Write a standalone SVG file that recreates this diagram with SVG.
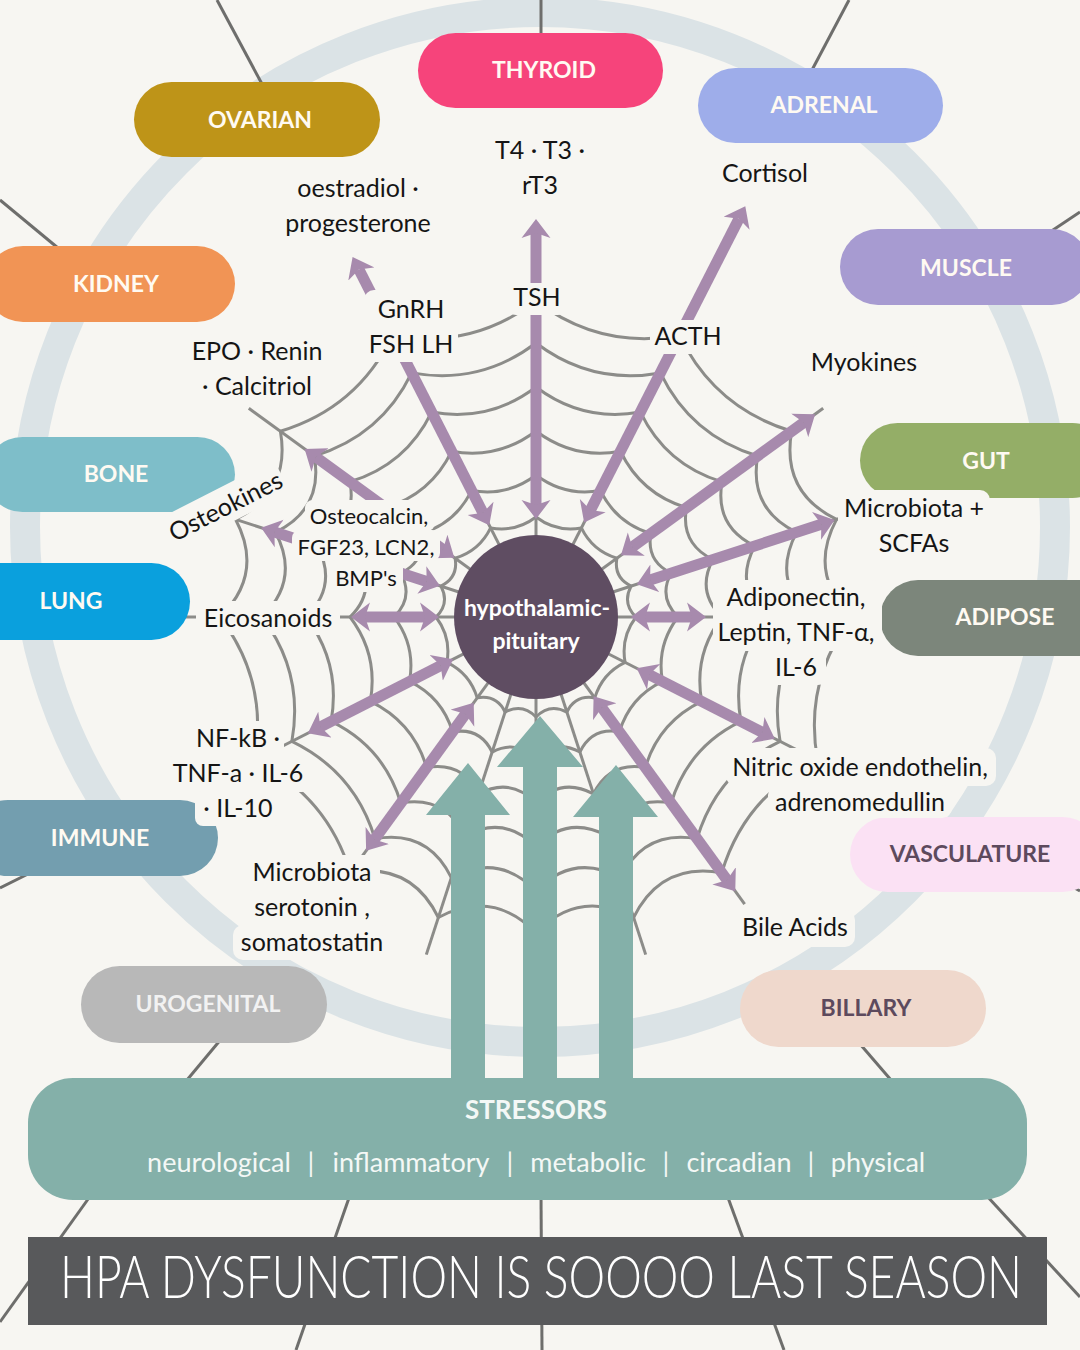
<svg xmlns="http://www.w3.org/2000/svg" width="1080" height="1350" viewBox="0 0 1080 1350">
<defs>
<style>
.t{font-family:Lato,'Liberation Sans','DejaVu Sans',sans-serif}
.lbl{font-family:Lato,'Liberation Sans','DejaVu Sans',sans-serif;font-size:25px;fill:#151515;text-anchor:middle}
.sm{font-size:22px}
.lb{fill:#f7f6f2}
.nd text{font-family:Lato,'Liberation Sans','DejaVu Sans',sans-serif;font-size:23px;font-weight:700;fill:#fffaf2;text-anchor:middle}
.web{fill:none;stroke:#8c8c89;stroke-width:3}
.osp{stroke:#6e6e6c;stroke-width:3}
.arr{stroke:#a78aad;stroke-width:11}
.st{font-family:Lato,'Liberation Sans','DejaVu Sans',sans-serif;font-size:27px;fill:#f4f8f6;text-anchor:middle}
</style>
<marker id="ah" viewBox="0 -15 20 30" refX="5" refY="0" markerWidth="20" markerHeight="30" markerUnits="userSpaceOnUse" orient="auto-start-reverse"><path d="M0,-14.5 L19,0 L0,14.5 L5,0 Z" fill="#a78aad"/></marker>
<g id="s18"><line x1="0" y1="0" x2="0" y2="-355"/><path d="M0,-100 Q13.6,-85.9 30.9,-95.1 M0,-142 Q19.3,-122 43.9,-135.1 M0,-186 Q25.3,-159.8 57.5,-176.9 M0,-230 Q31.3,-197.6 71.1,-218.7 M0,-274 Q37.3,-235.4 84.7,-260.6 M0,-316 Q43,-271.5 97.7,-300.5"/></g>
<g id="s27"><line x1="0" y1="0" x2="0" y2="-355"/><path d="M0,-100 Q20.3,-84.6 45.4,-89.1 M0,-142 Q28.8,-120.1 64.5,-126.5 M0,-186 Q37.8,-157.3 84.4,-165.7 M0,-230 Q46.7,-194.6 104.4,-204.9 M0,-274 Q55.6,-231.8 124.4,-244.1 M0,-316 Q64.2,-267.3 143.5,-281.6"/></g>
</defs>
<rect width="1080" height="1350" fill="#f7f6f2"/>
<circle cx="540" cy="527" r="515" fill="none" stroke="#dbe3e6" stroke-width="30"/>
<g id="outer-spokes" class="osp">
<line x1="217" y1="0" x2="262" y2="84"/>
<line x1="541" y1="0" x2="541" y2="36"/>
<line x1="849" y1="0" x2="812" y2="70"/>
<line x1="0" y1="200" x2="58" y2="248"/>
<line x1="1080" y1="212" x2="1050" y2="232"/>
<line x1="0" y1="888" x2="30" y2="873"/>
<line x1="1060" y1="880" x2="1080" y2="891"/>
<line x1="222" y1="1038" x2="187" y2="1080"/>
<line x1="860" y1="1044" x2="891" y2="1080"/>
<line x1="91" y1="1195" x2="0" y2="1322"/>
<line x1="350" y1="1195" x2="296" y2="1350"/>
<line x1="541" y1="1195" x2="542" y2="1350"/>
<line x1="727" y1="1195" x2="784" y2="1350"/>
<line x1="986" y1="1195" x2="1080" y2="1297"/>
</g>
<g id="web" class="web">
<use href="#s27" transform="translate(536 617) rotate(90)"/>
<use href="#s27" transform="translate(536 617) rotate(117)"/>
<use href="#s18" transform="translate(536 617) rotate(144)"/>
<use href="#s18" transform="translate(536 617) rotate(162)"/>
<use href="#s18" transform="translate(536 617) rotate(180)"/>
<use href="#s18" transform="translate(536 617) rotate(198)"/>
<use href="#s27" transform="translate(536 617) rotate(216)"/>
<use href="#s27" transform="translate(536 617) rotate(243)"/>
<use href="#s18" transform="translate(536 617) rotate(270)"/>
<use href="#s18" transform="translate(536 617) rotate(288)"/>
<use href="#s27" transform="translate(536 617) rotate(306)"/>
<use href="#s27" transform="translate(536 617) rotate(333)"/>
<use href="#s27" transform="translate(536 617) rotate(0)"/>
<use href="#s27" transform="translate(536 617) rotate(27)"/>
<use href="#s18" transform="translate(536 617) rotate(54)"/>
<use href="#s18" transform="translate(536 617) rotate(72)"/>
</g>
<g id="connectors" class="arr" marker-start="url(#ah)" marker-end="url(#ah)">
<line x1="117" y1="0" x2="390" y2="0" transform="translate(536 617) rotate(243)"/>
<line x1="112" y1="0" x2="384" y2="0" transform="translate(536 617) rotate(270)"/>
<line x1="120" y1="0" x2="447" y2="0" transform="translate(536 617) rotate(297)"/>
<line x1="119" y1="0" x2="331" y2="0" transform="translate(536 617) rotate(324)"/>
<line x1="120" y1="0" x2="300" y2="0" transform="translate(536 617) rotate(342)"/>
<line x1="109" y1="0" x2="156" y2="0" transform="translate(536 617) rotate(0)"/>
<line x1="127" y1="0" x2="254" y2="0" transform="translate(536 617) rotate(27)"/>
<line x1="112" y1="0" x2="325" y2="0" transform="translate(536 617) rotate(54)"/>
<line x1="120" y1="0" x2="275" y2="0" transform="translate(536 617) rotate(126)"/>
<line x1="107" y1="0" x2="242" y2="0" transform="translate(536 617) rotate(153)"/>
<line x1="111" y1="0" x2="171" y2="0" transform="translate(536 617) rotate(180)"/>
<line x1="115" y1="0" x2="275" y2="0" transform="translate(536 617) rotate(198)"/>
<line x1="115" y1="0" x2="272" y2="0" transform="translate(536 617) rotate(216)"/>
</g>
<g id="stress-arrows" fill="#84b0a9">
<path d="M451,1082 L451,815 L426,815 L468,763 L510,815 L485,815 L485,1082 Z"/>
<path d="M523,1082 L523,767 L497,767 L540,716 L583,767 L557,767 L557,1082 Z"/>
<path d="M599,1082 L599,817 L573,817 L616,765 L658,817 L633,817 L633,1082 Z"/>
</g>
<g id="thyroid" class="nd"><rect x="418" y="33" width="245" height="75" rx="37.5" fill="#f6447b"/><text x="544" y="78">THYROID</text></g>
<g id="ovarian" class="nd"><rect x="134" y="82" width="246" height="75" rx="37.5" fill="#be9418"/><text x="260" y="128">OVARIAN</text></g>
<g id="adrenal" class="nd"><rect x="698" y="68" width="245" height="75" rx="37.5" fill="#9eadea"/><text x="824" y="113">ADRENAL</text></g>
<g id="muscle" class="nd"><rect x="840" y="229" width="250" height="76" rx="38" fill="#a79bd1"/><text x="966" y="276">MUSCLE</text></g>
<g id="kidney" class="nd"><rect x="-15" y="246" width="250" height="76" rx="38" fill="#f19455"/><text x="116" y="292">KIDNEY</text></g>
<g id="bone" class="nd"><rect x="-15" y="437" width="250" height="75" rx="37.5" fill="#7ebec9"/><text x="116" y="482">BONE</text></g>
<g id="lung" class="nd"><rect x="-60" y="563" width="250" height="77" rx="38.5" fill="#0aa0dd"/><text x="71" y="609">LUNG</text></g>
<g id="gut" class="nd"><rect x="860" y="423" width="250" height="75" rx="37.5" fill="#94ae67"/><text x="986" y="469">GUT</text></g>
<g id="adipose" class="nd"><rect x="880" y="580" width="250" height="76" rx="38" fill="#7c867b"/><text x="1005" y="625">ADIPOSE</text></g>
<g id="immune" class="nd"><rect x="-30" y="800" width="248" height="76" rx="38" fill="#739eaf"/><text x="100" y="846">IMMUNE</text></g>
<g id="vasculature" class="nd"><rect x="850" y="817" width="250" height="75" rx="37.5" fill="#fbe1f4"/><text x="970" y="862" style="fill:#5d4a5d">VASCULATURE</text></g>
<g id="urogenital" class="nd"><rect x="81" y="966" width="246" height="77" rx="38.5" fill="#b8b8b8"/><text x="208" y="1012" style="fill:#f2f2f2">UROGENITAL</text></g>
<g id="billary" class="nd"><rect x="740" y="970" width="246" height="77" rx="38.5" fill="#efd8cc"/><text x="866" y="1016" style="fill:#5d4a5d">BILLARY</text></g>
<g id="labels">
<g id="lbl-thyroid"><rect class="lb" x="488" y="133" width="104" height="70" rx="10"/><text class="lbl" x="540" y="159">T4 · T3 ·</text><text class="lbl" x="540" y="194">rT3</text></g>
<g id="lbl-ovarian"><rect class="lb" x="280" y="170" width="158" height="70" rx="10"/><text class="lbl" x="358" y="197">oestradiol ·</text><text class="lbl" x="358" y="232">progesterone</text></g>
<g id="lbl-adrenal"><rect class="lb" x="715" y="158" width="100" height="34" rx="10"/><text class="lbl" x="765" y="182">Cortisol</text></g>
<g id="lbl-kidney"><rect class="lb" x="185" y="334" width="145" height="70" rx="10"/><text class="lbl" x="257" y="360">EPO · Renin</text><text class="lbl" x="257" y="395">· Calcitriol</text></g>
<g id="lbl-gnrh"><rect class="lb" x="364" y="290" width="94" height="72" rx="10"/><text class="lbl" x="411" y="318">GnRH</text><text class="lbl" x="411" y="353">FSH LH</text></g>
<g id="lbl-tsh"><rect class="lb" x="508" y="283" width="58" height="32" rx="8"/><text class="lbl" x="537" y="306">TSH</text></g>
<g id="lbl-acth"><rect class="lb" x="650" y="320" width="77" height="34" rx="8"/><text class="lbl" x="688" y="345">ACTH</text></g>
<g id="lbl-myokines"><rect class="lb" x="805" y="346" width="118" height="34" rx="10"/><text class="lbl" x="864" y="371">Myokines</text></g>
<g id="lbl-osteokines" transform="translate(226 507) rotate(-27)"><rect class="lb" x="-64" y="-20" width="128" height="36" rx="10"/><text class="lbl" x="0" y="8">Osteokines</text></g>
<g id="lbl-bone"><rect class="lb" x="305" y="500" width="130" height="31" rx="8"/><rect class="lb" x="292" y="530" width="148" height="31" rx="8"/><rect class="lb" x="329" y="560" width="74" height="32" rx="8"/><text class="lbl sm" x="369" y="524">Osteocalcin,</text><text class="lbl sm" x="366" y="555">FGF23, LCN2,</text><text class="lbl sm" x="366" y="586">BMP's</text></g>
<g id="lbl-lung"><rect class="lb" x="196" y="601" width="144" height="34" rx="10"/><text class="lbl" x="268" y="627">Eicosanoids</text></g>
<g id="lbl-gut"><rect class="lb" x="838" y="490" width="152" height="71" rx="10"/><text class="lbl" x="914" y="517">Microbiota +</text><text class="lbl" x="914" y="552">SCFAs</text></g>
<g id="lbl-adipose"><rect class="lb" x="713" y="580" width="169" height="71" rx="10"/><rect class="lb" x="766" y="650" width="60" height="35" rx="8"/><text class="lbl" x="796" y="606">Adiponectin,</text><text class="lbl" x="796" y="641">Leptin, TNF-α,</text><text class="lbl" x="796" y="676">IL-6</text></g>
<g id="lbl-immune"><rect class="lb" x="190" y="721" width="94" height="36" rx="8"/><rect class="lb" x="166" y="756" width="144" height="36" rx="8"/><rect class="lb" x="195" y="791" width="86" height="35" rx="8"/><text class="lbl" x="238" y="747">NF-kB ·</text><text class="lbl" x="238" y="782">TNF-a · IL-6</text><text class="lbl" x="238" y="817">· IL-10</text></g>
<g id="lbl-vasc"><rect class="lb" x="726" y="748" width="270" height="38" rx="10"/><rect class="lb" x="768" y="785" width="184" height="33" rx="10"/><text class="lbl" x="860" y="776">Nitric oxide endothelin,</text><text class="lbl" x="860" y="811">adrenomedullin</text></g>
<g id="lbl-micro"><rect class="lb" x="246" y="855" width="134" height="36" rx="8"/><rect class="lb" x="246" y="890" width="132" height="36" rx="8"/><rect class="lb" x="233" y="925" width="159" height="35" rx="10"/><text class="lbl" x="312" y="881">Microbiota</text><text class="lbl" x="312" y="916">serotonin ,</text><text class="lbl" x="312" y="951">somatostatin</text></g>
<g id="lbl-bile"><rect class="lb" x="736" y="910" width="119" height="37" rx="10"/><text class="lbl" x="795" y="936">Bile Acids</text></g>
</g>
<g id="hp"><circle cx="536" cy="617" r="82" fill="#5f4d62"/><text class="t" x="537" y="616" font-size="23" font-weight="700" fill="#ffffff" text-anchor="middle">hypothalamic-</text><text class="t" x="536" y="649" font-size="23" font-weight="700" fill="#ffffff" text-anchor="middle">pituitary</text></g>
<g id="stressors"><rect x="28" y="1078" width="999" height="122" rx="45" fill="#84b0a9"/><text class="t" x="536" y="1119" font-size="26" font-weight="700" fill="#f4f8f6" text-anchor="middle">STRESSORS</text>
<text class="st" x="219" y="1172">neurological</text><text class="st" x="311" y="1172">|</text>
<text class="st" x="411" y="1172">inflammatory</text><text class="st" x="510" y="1172">|</text>
<text class="st" x="588" y="1172">metabolic</text><text class="st" x="666" y="1172">|</text>
<text class="st" x="739" y="1172">circadian</text><text class="st" x="811" y="1172">|</text>
<text class="st" x="878" y="1172">physical</text></g>
<g id="title"><rect x="28" y="1237" width="1019" height="88" fill="#58595b"/><text class="t" transform="translate(60 1298) scale(1 1.3)" x="0" y="0" font-size="45" font-weight="300" fill="#ffffff" textLength="962" lengthAdjust="spacingAndGlyphs">HPA DYSFUNCTION IS SOOOO LAST SEASON</text></g>
</svg>
